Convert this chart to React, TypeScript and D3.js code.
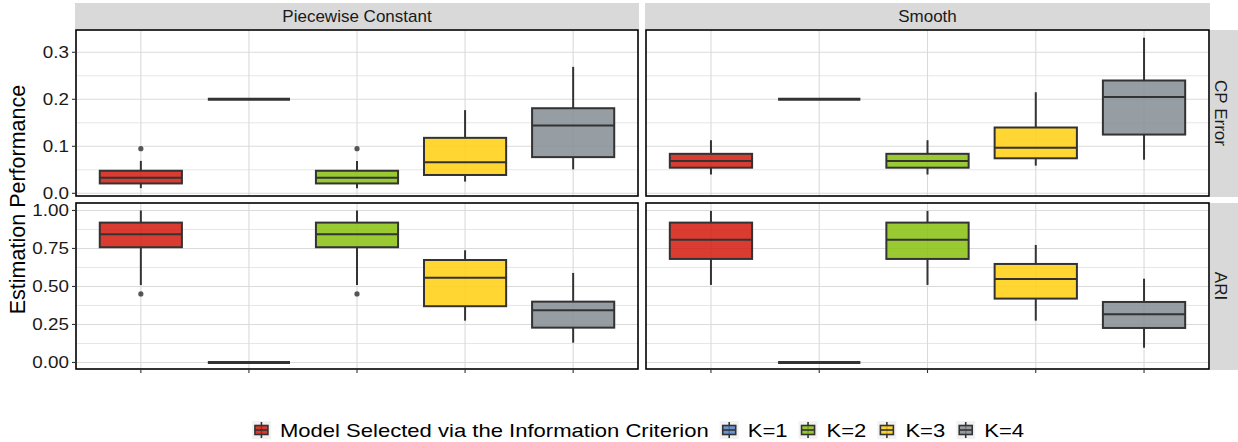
import React, { useEffect, useRef } from "react";
import * as d3 from "d3";

// ---- data ----
const methods = [
  "Model Selected via the Information Criterion",
  "K=1",
  "K=2",
  "K=3",
  "K=4",
];
const fillColors = ["#D41A0E", "#5584CA", "#88C10E", "#FFCF0E", "#848C93"];

const columns = ["Piecewise Constant", "Smooth"];
const rows = ["CP Error", "ARI"];

// [lower whisker, q1, median, q3, upper whisker]
const pcCpError = [
  [0.011, 0.021, 0.033, 0.048, 0.069],
  [0.2, 0.2, 0.2, 0.2, 0.2],
  [0.011, 0.021, 0.033, 0.048, 0.069],
  [0.025, 0.039, 0.066, 0.118, 0.177],
  [0.051, 0.077, 0.144, 0.181, 0.269],
];
const pcCpErrorOutliers = [[0.095], [], [0.095], [], []];

const smCpError = [
  [0.04, 0.0545, 0.069, 0.084, 0.113],
  [0.2, 0.2, 0.2, 0.2, 0.2],
  [0.04, 0.0545, 0.069, 0.084, 0.113],
  [0.059, 0.0745, 0.097, 0.14, 0.215],
  [0.0715, 0.125, 0.205, 0.24, 0.331],
];
const smCpErrorOutliers = [[], [], [], [], []];

const pcAri = [
  [0.509, 0.758, 0.843, 0.92, 1.0],
  [0, 0, 0, 0, 0],
  [0.509, 0.758, 0.843, 0.92, 1.0],
  [0.275, 0.37, 0.558, 0.674, 0.738],
  [0.13, 0.229, 0.343, 0.4, 0.589],
];
const pcAriOutliers = [[0.451], [], [0.451], [], []];

const smAri = [
  [0.51, 0.681, 0.808, 0.92, 0.997],
  [0, 0, 0, 0, 0],
  [0.51, 0.681, 0.808, 0.92, 0.997],
  [0.275, 0.42, 0.549, 0.648, 0.773],
  [0.097, 0.227, 0.317, 0.398, 0.551],
];
const smAriOutliers = [[], [], [], [], []];

const cpErrorTicks = [0, 0.1, 0.2, 0.3];
const cpErrorMinor = [0.05, 0.15, 0.25];
const ariTicks = [0, 0.25, 0.5, 0.75, 1.0];
const ariMinor = [0.125, 0.375, 0.625, 0.875];

const yTitle = "Estimation Performance";

export default function App() {
  const ref = useRef<SVGSVGElement>(null);

  useEffect(() => {
    const svg = d3.select(ref.current);
    svg.selectAll("*").remove();
    const W = 1238;
    const H = 442;
    const font = "'Liberation Sans', Arial, sans-serif";
    svg.attr("width", W).attr("height", H).style("font-family", font);
    svg.append("rect").attr("width", W).attr("height", H).attr("fill", "#fff");

    const stretch = (sel: any, k: number) => {
      const w = (sel.node() as SVGTextElement).getComputedTextLength();
      sel.attr("textLength", w * k).attr("lengthAdjust", "spacingAndGlyphs");
      return w * k;
    };

    const colX = [
      [76, 638],
      [646, 1209],
    ];
    const rowY = [
      [30, 196],
      [203, 369],
    ];
    const yDomains = [
      [-0.0057, 0.3474],
      [-0.043, 1.049],
    ];
    const majorTicks = [cpErrorTicks, ariTicks];
    const minorTicks = [cpErrorMinor, ariMinor];
    const tickFmt = [d3.format(".1f"), d3.format(".2f")];
    const data = [
      [pcCpError, smCpError],
      [pcAri, smAri],
    ];
    const outl = [
      [pcCpErrorOutliers, smCpErrorOutliers],
      [pcAriOutliers, smAriOutliers],
    ];
    const boxW = 0.76;

    // strips top
    columns.forEach((c, ci) => {
      const [x0, x1] = colX[ci];
      svg.append("rect").attr("x", x0 - 1).attr("y", 3).attr("width", x1 - x0 + 2).attr("height", 26).attr("fill", "#D9D9D9");
      svg.append("text").attr("x", (x0 + x1) / 2).attr("y", 22).attr("text-anchor", "middle")
        .attr("font-size", 17).attr("fill", "#1a1a1a").text(c);
    });
    // strips right
    rows.forEach((r, ri) => {
      const [y0, y1] = rowY[ri];
      svg.append("rect").attr("x", 1210).attr("y", y0).attr("width", 30).attr("height", y1 - y0 + 1).attr("fill", "#D9D9D9");
      const cx = 1221, cy = (y0 + y1) / 2;
      svg.append("text").attr("transform", `translate(${cx},${cy}) rotate(90)`)
        .attr("text-anchor", "middle").attr("dy", "0.35em").attr("font-size", 17).attr("fill", "#1a1a1a").text(r);
    });

    rows.forEach((r, ri) => {
      const [y0, y1] = rowY[ri];
      const y = d3.scaleLinear().domain(yDomains[ri]).range([y1, y0]);
      columns.forEach((c, ci) => {
        const [x0, x1] = colX[ci];
        const x = d3.scaleLinear().domain([0.4, 5.6]).range([x0, x1]);
        const g = svg.append("g");
        g.append("rect").attr("x", x0).attr("y", y0).attr("width", x1 - x0).attr("height", y1 - y0).attr("fill", "#fff");
        // grid
        minorTicks[ri].forEach((t) => {
          g.append("line").attr("x1", x0).attr("x2", x1).attr("y1", y(t)).attr("y2", y(t))
            .attr("stroke", "#E6E6E6").attr("stroke-width", 1);
        });
        majorTicks[ri].forEach((t) => {
          g.append("line").attr("x1", x0).attr("x2", x1).attr("y1", y(t)).attr("y2", y(t))
            .attr("stroke", "#DADADA").attr("stroke-width", 1.1);
        });
        methods.forEach((m, mi) => {
          g.append("line").attr("x1", x(mi + 1)).attr("x2", x(mi + 1)).attr("y1", y0).attr("y2", y1)
            .attr("stroke", "#DADADA").attr("stroke-width", 1.1);
        });
        // boxes
        const dd = data[ri][ci];
        dd.forEach((s, mi) => {
          const [lo, q1, med, q3, hi] = s;
          const cx = x(mi + 1);
          const bx0 = x(mi + 1 - boxW / 2);
          const bx1 = x(mi + 1 + boxW / 2);
          const stroke = "#333333";
          if (q3 - q1 < 1e-9) {
            g.append("line").attr("x1", bx0).attr("x2", bx1).attr("y1", y(med)).attr("y2", y(med))
              .attr("stroke", stroke).attr("stroke-width", 3);
            return;
          }
          g.append("line").attr("x1", cx).attr("x2", cx).attr("y1", y(hi)).attr("y2", y(q3))
            .attr("stroke", stroke).attr("stroke-width", 2);
          g.append("line").attr("x1", cx).attr("x2", cx).attr("y1", y(q1)).attr("y2", y(lo))
            .attr("stroke", stroke).attr("stroke-width", 2);
          g.append("rect").attr("x", bx0).attr("y", y(q3)).attr("width", bx1 - bx0).attr("height", y(q1) - y(q3))
            .attr("fill", fillColors[mi]).attr("fill-opacity", 0.85)
            .attr("stroke", stroke).attr("stroke-width", 2);
          g.append("line").attr("x1", bx0).attr("x2", bx1).attr("y1", y(med)).attr("y2", y(med))
            .attr("stroke", stroke).attr("stroke-width", 2);
          outl[ri][ci][mi].forEach((o) => {
            g.append("circle").attr("cx", cx).attr("cy", y(o)).attr("r", 2.6).attr("fill", "#3a3a3a").attr("fill-opacity", 0.85);
          });
        });
        // border
        g.append("rect").attr("x", x0).attr("y", y0).attr("width", x1 - x0).attr("height", y1 - y0)
          .attr("fill", "none").attr("stroke", "#000").attr("stroke-width", 1.6);
        // x ticks at bottom row
        if (ri === rows.length - 1) {
          methods.forEach((m, mi) => {
            g.append("line").attr("x1", x(mi + 1)).attr("x2", x(mi + 1)).attr("y1", y1).attr("y2", y1 + 4)
              .attr("stroke", "#333").attr("stroke-width", 1.1);
          });
        }
        // y axis on first column
        if (ci === 0) {
          majorTicks[ri].forEach((t) => {
            g.append("line").attr("x1", x0 - 4).attr("x2", x0).attr("y1", y(t)).attr("y2", y(t))
              .attr("stroke", "#333").attr("stroke-width", 1.1);
            const tx = g.append("text").attr("x", 0).attr("y", y(t)).attr("dy", "0.36em")
              .attr("font-size", 16.5).attr("fill", "#1a1a1a").text(tickFmt[ri](t));
            const w = stretch(tx, 1.14);
            tx.attr("x", x0 - 7 - w);
          });
        }
      });
    });

    // y title
    svg.append("text").attr("transform", `translate(17,${(30 + 369) / 2}) rotate(-90)`)
      .attr("text-anchor", "middle").attr("dy", "0.36em").attr("font-size", 21.5).attr("fill", "#000").text(yTitle);

    // legend
    const lg = svg.append("g");
    const keyS = 19;
    const keyH = 18;
    const gapText = 9;
    const itemGap = 11;
    let cur = 0;
    const legendY = 430;
    const items: { x: number; w: number; mi: number }[] = [];
    methods.forEach((m, mi) => {
      const t = lg.append("text").attr("x", 0).attr("y", legendY).attr("dy", "0.36em")
        .attr("font-size", 19).attr("fill", "#000").text(m);
      const tw = stretch(t, 1.16);
      items.push({ x: cur, w: tw, mi });
      t.attr("x", cur + keyS + gapText);
      cur += keyS + gapText + tw + itemGap;
    });
    const total = cur - itemGap;
    const startX = 638 - total / 2;
    lg.attr("transform", `translate(${startX},0)`);
    items.forEach(({ x, mi }) => {
      const kx = x, ky = legendY - keyH / 2;
      lg.append("rect").attr("x", kx).attr("y", ky).attr("width", keyS).attr("height", keyH).attr("fill", "#F2F2F2");
      const cx = kx + keyS / 2;
      lg.append("line").attr("x1", cx).attr("x2", cx).attr("y1", ky + 1).attr("y2", ky + keyH - 1)
        .attr("stroke", "#333").attr("stroke-width", 1.6);
      lg.append("rect").attr("x", kx + 3).attr("y", ky + 4.5).attr("width", keyS - 6).attr("height", keyH - 9)
        .attr("fill", fillColors[mi]).attr("fill-opacity", 0.85).attr("stroke", "#333").attr("stroke-width", 1.6);
      lg.append("line").attr("x1", kx + 3).attr("x2", kx + keyS - 3).attr("y1", legendY).attr("y2", legendY)
        .attr("stroke", "#333").attr("stroke-width", 1.6);
    });
  }, []);

  return (
    <svg ref={ref} style={{ position: "absolute", left: 0, top: 0, display: "block" }} />
  );
}
